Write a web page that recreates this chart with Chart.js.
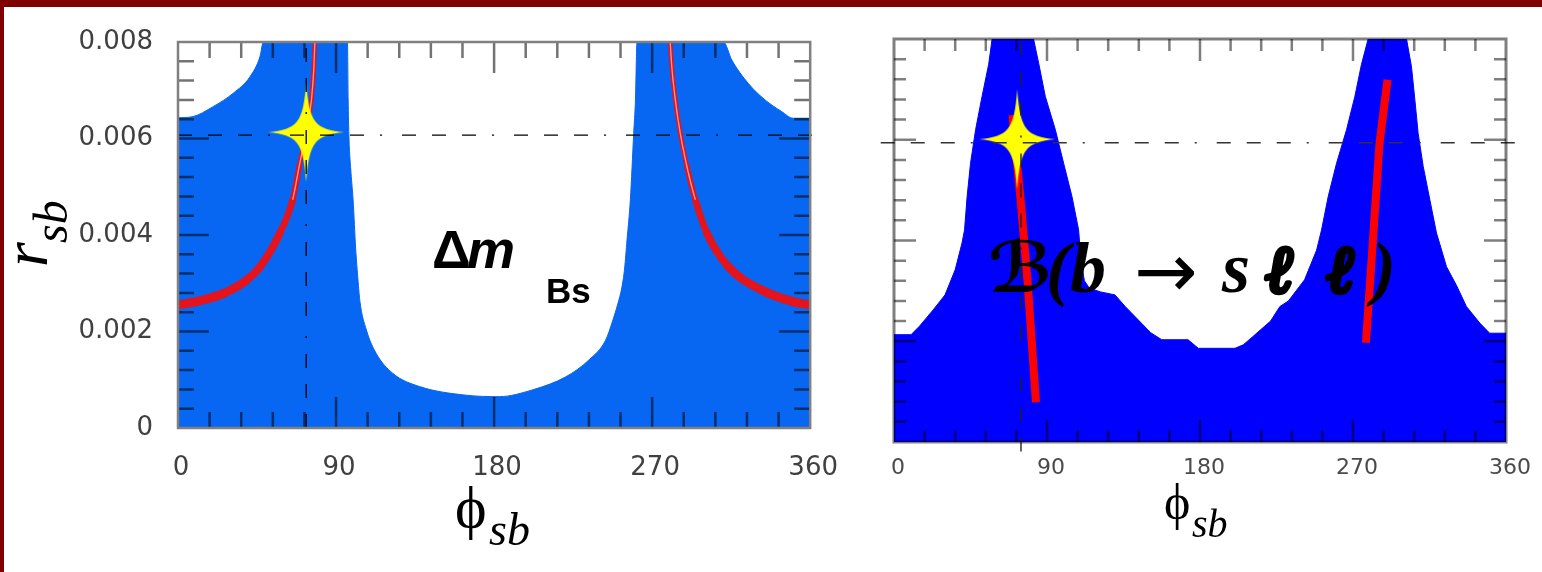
<!DOCTYPE html>
<html>
<head>
<meta charset="utf-8">
<script src="https://cdn.jsdelivr.net/npm/chart.js@4.4.1/dist/chart.umd.min.js"></script>
<style>
  html, body { margin: 0; padding: 0; background: #fff; }
  body { width: 1542px; height: 572px; position: relative; overflow: hidden; }
  #barTop  { position: absolute; left: 0; top: 0; width: 1542px; height: 7px; background: #800000; z-index: 5; }
  #barLeft { position: absolute; left: 0; top: 0; width: 4px; height: 572px; background: #800000; z-index: 5; }
  #dm   { position: absolute; left: 0; top: 0; }
  #bsll { position: absolute; left: 860px; top: 0; }
</style>
</head>
<body>
<div id="barTop"></div>
<div id="barLeft"></div>
<canvas id="dm" width="860" height="572"></canvas>
<canvas id="bsll" width="682" height="572"></canvas>
<script>
// ---------- shared axes ----------
const phiTicks = [0, 90, 180, 270, 360];
const rTicks = [0, 0.002, 0.004, 0.006, 0.008];

// ---------- Δm_Bs panel ----------
// upper edge of the allowed region (allowed from r = 0 up to this edge)
const dmPhi = [0, 8, 20, 31.5, 41, 46.7, 48.6, 96.5, 96.9, 97.3, 98.3, 99.7, 101.2, 102.5, 103.5, 107.3, 112.8, 122.4, 137.5, 164,
               183, 201.8, 220.8, 234, 243.5, 247.5, 250.5, 252.7, 254.3, 255.7, 257.6, 259.5, 260.5, 261.4,
               310.6, 315.3, 324.8, 334.3, 343.7, 350.3, 360];
const dmR = [0.00643, 0.00645, 0.00666, 0.00694, 0.00728, 0.0077, 0.008, 0.008, 0.0068, 0.00608, 0.0054, 0.00473, 0.0037, 0.00307, 0.00265, 0.00203, 0.00155, 0.00113, 0.00086, 0.00068,
             0.00065, 0.00079, 0.00106, 0.00141, 0.00182, 0.00222, 0.00258, 0.0029, 0.0033, 0.0039, 0.00473, 0.00611, 0.0068, 0.008,
             0.008, 0.00763, 0.00714, 0.0068, 0.00656, 0.00642, 0.00642];
// central-value band, two branches
const dmBandLeftPhi = [0, 12.7, 26, 39.2, 46.7, 58, 65.3, 69, 72.8, 76, 77.4, 77.9, 78.3];
const dmBandLeftR = [0.00255, 0.00264, 0.00279, 0.00307, 0.00334, 0.00404, 0.00473, 0.00542, 0.00611, 0.0068, 0.00749, 0.00797, 0.0085];
const dmBandRightPhi = [279.8, 280.3, 281.2, 283.2, 286, 289.8, 294.6, 301.2, 313.5, 332.4, 350, 360];
const dmBandRightR = [0.0085, 0.008, 0.00749, 0.0068, 0.00611, 0.00542, 0.00473, 0.00404, 0.00334, 0.00286, 0.00262, 0.00255];
// reference point and cross-hair
const dmPoint = { phi: 73.0, r: 0.00613 };
const dmCrossPhi = 73.0;
const dmCrossR = 0.00607;
const dmCrossPhiRange = [0, 364.5];

// ---------- B(b → s ℓ ℓ) panel ----------
const bsllPhi = [0, 10, 15, 23, 30, 36, 40, 41.5, 43, 45, 48, 51.8, 55.7, 57.7, 82.1, 85.1, 89, 94.9, 99.8, 104.7,
                 108.6, 110, 112, 115, 121.5, 130, 136, 145.5, 151, 157.5, 173, 179, 200.6, 205.5, 211, 221.5, 227, 232, 237, 241.5,
                 248.6, 251.5, 255.4, 260.3, 266.2, 271.1, 275, 278.9, 301.5, 304.4, 306.4, 308.3, 311.3, 315.2, 319.1, 325, 331, 336.7, 344.6, 350.4, 360];
const bsllR = [0.00213, 0.00213, 0.0023, 0.00262, 0.00292, 0.00342, 0.00395, 0.00421, 0.00487, 0.00553, 0.0062, 0.00686, 0.0075, 0.008, 0.008, 0.00752, 0.00686, 0.0062, 0.00553, 0.00487,
               0.00421, 0.0036, 0.0032, 0.00305, 0.00298, 0.00292, 0.00269, 0.00236, 0.00217, 0.00203, 0.00203, 0.00186, 0.00186, 0.00193, 0.00209, 0.0024, 0.00269, 0.0028, 0.00302, 0.00322,
               0.00381, 0.00421, 0.00487, 0.00553, 0.0062, 0.00686, 0.0075, 0.008, 0.008, 0.00745, 0.00679, 0.00613, 0.00547, 0.00481, 0.00415, 0.00348, 0.0031, 0.00269, 0.00236, 0.00216, 0.00216];
const bsllLine1Phi = [69.7, 74.5, 78.5, 83.5];
const bsllLine1R = [0.00649, 0.0048, 0.00322, 0.00079];
const bsllLine2Phi = [277.6, 285.6, 290.3];
const bsllLine2R = [0.00197, 0.00593, 0.00719];
const bsllPoint = { phi: 72.5, r: 0.00601 };
const bsllCrossPhi = 74.7;
const bsllCrossR = 0.00594;
const bsllCrossPhiRange = [-7.8, 369.8];
const bsllCrossRRange = [-0.00019, 0.008];

// ---------- helpers ----------
const pts = (xs, ys) => xs.map((x, i) => ({ x: x, y: ys[i] }));
const DASH = [14, 16, 14, 16, 14, 16, 2, 20];

function makeStar(hw, hh) {
  const c = document.createElement('canvas');
  c.width = 2 * hw + 4; c.height = 2 * hh + 4;
  const g = c.getContext('2d');
  const cx = c.width / 2, cy = c.height / 2;
  g.fillStyle = '#ffff00';
  g.beginPath();
  g.moveTo(cx, cy - hh);
  g.bezierCurveTo(cx + 3, cy - 9, cx + 9, cy - 3, cx + hw, cy);
  g.bezierCurveTo(cx + 9, cy + 3, cx + 3, cy + 9, cx, cy + hh);
  g.bezierCurveTo(cx - 3, cy + 9, cx - 9, cy + 3, cx - hw, cy);
  g.bezierCurveTo(cx - 9, cy - 3, cx - 3, cy - 9, cx, cy - hh);
  g.closePath();
  g.fill();
  return c;
}
const starImg = makeStar(38, 50);

// inward major/minor ticks on all four sides plus the frame
const frameTicks = {
  id: 'frameTicks',
  afterDatasetsDraw(chart, args, o) {
    const { ctx, chartArea: a, scales: { x, y } } = chart;
    ctx.save();
    ctx.lineWidth = o.tickWidth;
    ctx.strokeStyle = o.tickColor;
    ctx.beginPath();
    for (let i = 1; i < 20; i++) {
      const len = i % 5 === 0 ? o.major : o.minor;
      const px = x.getPixelForValue(i * 18);
      ctx.moveTo(px, a.bottom); ctx.lineTo(px, a.bottom - len);
      ctx.moveTo(px, a.top); ctx.lineTo(px, a.top + len);
      const py = y.getPixelForValue(i * 0.0004);
      ctx.moveTo(a.left, py); ctx.lineTo(a.left + len, py);
      ctx.moveTo(a.right, py); ctx.lineTo(a.right - len, py);
    }
    ctx.stroke();
    ctx.lineWidth = o.frameWidth;
    ctx.strokeStyle = o.frameColor;
    ctx.strokeRect(a.left, a.top, a.right - a.left, a.bottom - a.top);
    ctx.restore();
  }
};

// axis titles and panel captions
const mathText = {
  id: 'mathText',
  afterDraw(chart, args, o) {
    const ctx = chart.ctx;
    for (const it of o.items) {
      ctx.save();
      ctx.translate(it.x - o.dx, it.y);
      if (it.rot) ctx.rotate(it.rot * Math.PI / 180);
      ctx.font = it.font;
      ctx.fillStyle = it.color || '#000';
      ctx.textAlign = 'left';
      ctx.textBaseline = 'alphabetic';
      if (it.heavy) {
        ctx.lineWidth = it.heavy;
        ctx.lineJoin = 'round';
        ctx.strokeStyle = it.color || '#000';
        ctx.strokeText(it.text, 0, 0);
      }
      ctx.fillText(it.text, 0, 0);
      ctx.restore();
    }
  }
};

function baseOptions(cfg) {
  return {
    responsive: false,
    animation: false,
    devicePixelRatio: 1,
    events: [],
    layout: { padding: cfg.padding },
    plugins: {
      legend: { display: false },
      tooltip: { enabled: false },
      frameTicks: cfg.frame,
      mathText: cfg.text
    },
    scales: {
      x: {
        type: 'linear', min: 0, max: 360,
        afterBuildTicks: s => { s.ticks = phiTicks.map(v => ({ value: v })); },
        afterFit: s => { s.height = cfg.xHeight; },
        grid: { display: false, drawTicks: false },
        border: { display: false },
        ticks: {
          autoSkip: false, maxRotation: 0,
          padding: cfg.xPad, labelOffset: cfg.xLabelOffset,
          color: cfg.tickColor,
          font: { family: 'DejaVu Sans', size: cfg.tickSize },
          callback: v => String(v)
        }
      },
      y: {
        type: 'linear', min: 0, max: 0.008,
        display: cfg.yLabels,
        afterBuildTicks: s => { s.ticks = rTicks.map(v => ({ value: v })); },
        afterFit: s => { s.width = cfg.yWidth; },
        grid: { display: false, drawTicks: false },
        border: { display: false },
        ticks: {
          autoSkip: false, padding: 25,
          color: cfg.tickColor,
          font: { family: 'DejaVu Sans', size: cfg.tickSize },
          callback: v => (v === 0 ? '0' : v.toFixed(3))
        }
      }
    }
  };
}

// ---------- Δm_Bs chart ----------
const dmBlue = '#0766f2';
const dmRed = '#e3141b';
const bandWidth = c => {
  const r = Math.min(c.p0.parsed.y, c.p1.parsed.y);
  const t = Math.max(0, Math.min(1, (r - 0.0025) / 0.003));
  return 9 - 4.5 * t;
};
const bandCore = c => (Math.min(c.p0.parsed.y, c.p1.parsed.y) > 0.0045 ? 'rgba(255,170,170,0.9)' : 'rgba(0,0,0,0)');
const phiFont = '"Liberation Serif", "DejaVu Serif"';

new Chart(document.getElementById('dm'), {
  type: 'line',
  data: {
    datasets: [
      { data: [{ x: dmCrossPhi, y: 0 }, { x: dmCrossPhi, y: 0.008 }], borderColor: '#000', borderWidth: 1.3, borderDash: DASH, pointRadius: 0, fill: false, clip: false },
      { data: [{ x: dmCrossPhiRange[0], y: dmCrossR }, { x: dmCrossPhiRange[1], y: dmCrossR }], borderColor: '#000', borderWidth: 1.3, borderDash: DASH, pointRadius: 0, fill: false, clip: false },
      { data: [{ x: dmPoint.phi, y: dmPoint.r }], showLine: false, pointStyle: starImg, pointRadius: 5, fill: false },
      { data: pts(dmBandLeftPhi, dmBandLeftR), borderWidth: 1.3, pointRadius: 0, fill: false, cubicInterpolationMode: 'monotone', segment: { borderColor: bandCore } },
      { data: pts(dmBandRightPhi, dmBandRightR), borderWidth: 1.3, pointRadius: 0, fill: false, cubicInterpolationMode: 'monotone', segment: { borderColor: bandCore } },
      { data: pts(dmBandLeftPhi, dmBandLeftR), borderColor: dmRed, pointRadius: 0, fill: false, borderCapStyle: 'round', cubicInterpolationMode: 'monotone', segment: { borderWidth: bandWidth } },
      { data: pts(dmBandRightPhi, dmBandRightR), borderColor: dmRed, pointRadius: 0, fill: false, borderCapStyle: 'round', cubicInterpolationMode: 'monotone', segment: { borderWidth: bandWidth } },
      { data: pts(dmPhi, dmR), borderColor: dmBlue, borderWidth: 1, backgroundColor: dmBlue, pointRadius: 0, fill: 'origin', cubicInterpolationMode: 'monotone' }
    ]
  },
  options: baseOptions({
    padding: { left: 0, top: 42, right: 48, bottom: 0 },
    xHeight: 144, yWidth: 178, yLabels: true,
    xPad: 25, xLabelOffset: 3, tickSize: 26, tickColor: '#404040',
    frame: { tickWidth: 2.5, tickColor: 'rgba(0,0,0,0.55)', minor: 16, major: 31, frameWidth: 2.5, frameColor: '#808080' },
    text: {
      dx: 0,
      items: [
        { text: 'r', x: 47, y: 267, rot: -90, font: 'italic 64px "Liberation Serif"' },
        { text: 'sb', x: 67, y: 243, rot: -90, font: 'italic 48px "Liberation Serif"' },
        { text: 'ϕ', x: 455, y: 527, font: '60px ' + phiFont },
        { text: 'sb', x: 489, y: 545, font: 'italic 46px "Liberation Serif"' },
        { text: 'Δ', x: 432, y: 268, font: 'bold 54px "Liberation Sans"' },
        { text: 'm', x: 467, y: 268, font: 'italic bold 54px "Liberation Sans"' },
        { text: 'Bs', x: 546, y: 303, font: 'bold 35px "Liberation Sans"' }
      ]
    }
  }),
  plugins: [frameTicks, mathText]
});

// ---------- B(b → s ℓ ℓ) chart ----------
const bsllBlue = '#0000ff';
const bsllRed = '#ff0000';
const capFont = 'italic bold 72px "Liberation Serif"';
const ellFont = 'italic bold 66px "DejaVu Serif"';

new Chart(document.getElementById('bsll'), {
  type: 'line',
  data: {
    datasets: [
      { data: [{ x: bsllCrossPhi, y: bsllCrossRRange[0] }, { x: bsllCrossPhi, y: bsllCrossRRange[1] }], borderColor: '#222', borderWidth: 1.4, borderDash: DASH, pointRadius: 0, fill: false, clip: false },
      { data: [{ x: bsllCrossPhiRange[0], y: bsllCrossR }, { x: bsllCrossPhiRange[1], y: bsllCrossR }], borderColor: '#333', borderWidth: 1.6, borderDash: DASH, pointRadius: 0, fill: false, clip: false },
      { data: [{ x: bsllPoint.phi, y: bsllPoint.r }], showLine: false, pointStyle: starImg, pointRadius: 5, fill: false },
      { data: pts(bsllLine1Phi, bsllLine1R), borderColor: bsllRed, borderWidth: 8, pointRadius: 0, fill: false, borderCapStyle: 'butt' },
      { data: pts(bsllLine2Phi, bsllLine2R), borderColor: bsllRed, borderWidth: 8, pointRadius: 0, fill: false, borderCapStyle: 'butt' },
      { data: pts(bsllPhi, bsllR), borderColor: bsllBlue, borderWidth: 1, backgroundColor: bsllBlue, pointRadius: 0, fill: 'origin', tension: 0 }
    ]
  },
  options: baseOptions({
    padding: { left: 34, top: 39, right: 36, bottom: 0 },
    xHeight: 130, yWidth: 0, yLabels: false,
    xPad: 13, xLabelOffset: 4, tickSize: 22, tickColor: '#4a4a4a',
    frame: { tickWidth: 2.5, tickColor: 'rgba(0,0,0,0.5)', minor: 12, major: 22, frameWidth: 3, frameColor: 'rgba(0,0,0,0.5)' },
    text: {
      dx: 860,
      items: [
        { text: 'ϕ', x: 1164, y: 519, font: '50px ' + phiFont },
        { text: 'sb', x: 1192, y: 537, font: 'italic 40px "Liberation Serif"' },
        { text: 'ℬ', x: 988, y: 292, font: 'bold 70px "DejaVu Sans"' },
        { text: '(', x: 1046, y: 292, font: capFont },
        { text: 'b', x: 1070, y: 292, font: capFont },
        { text: '→', x: 1134, y: 297, font: '76px "DejaVu Sans"' },
        { text: 's', x: 1222, y: 292, font: capFont },
        { text: 'ℓ', x: 1266, y: 292, font: ellFont, heavy: 5 },
        { text: 'ℓ', x: 1327, y: 292, font: ellFont, heavy: 5 },
        { text: ')', x: 1372, y: 292, font: capFont }
      ]
    }
  }),
  plugins: [frameTicks, mathText]
});
</script>
</body>
</html>
